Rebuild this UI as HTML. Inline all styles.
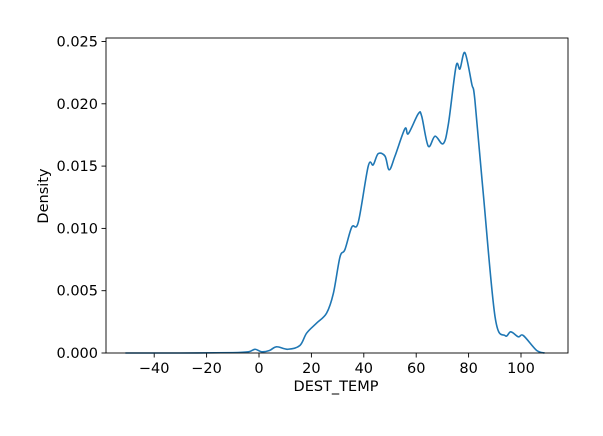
<!DOCTYPE html>
<html><head><meta charset="utf-8"><style>
body{margin:0;background:#fff;}
svg text{font-family:"DejaVu Sans","Liberation Sans",sans-serif;fill:#000;}
</style></head><body>
<svg width="603" height="431" viewBox="0 0 603 431">
<rect width="603" height="431" fill="#fff"/>
<g id="axes"></g>
<path id="curve" fill="none" stroke="#1f77b4" stroke-width="1.6" stroke-linejoin="round"/>
<rect x="106" y="38" width="462" height="315" fill="none" stroke="#000" stroke-width="0.9"/>
<text x="336" y="391" font-size="14.5" text-anchor="middle">DEST_TEMP</text>
<text x="48" y="196" font-size="14.5" text-anchor="middle" transform="rotate(-90 48 196)">Density</text>
</svg>
<script>
const xs=[-51,-30,-10,-4,-1.5,1,4,6.7,11,15.6,18.2,22,25.8,28.4,30.9,32.8,35.4,37.9,41.7,43.6,45.5,48.1,49.7,51.9,55.7,57,60.8,62.1,64.6,67.2,70.3,72.3,75.2,76.7,78.6,81.2,82.4,85.6,90.1,93.9,96.1,99,100.9,106,109];
const ys=[0,0,0.00003,0.0001,0.0003,0.0001,0.0002,0.0005,0.0003,0.0006,0.0016,0.0024,0.0032,0.0048,0.0077,0.0083,0.0101,0.0105,0.015,0.0151,0.016,0.0158,0.0147,0.0158,0.018,0.0176,0.0192,0.019,0.0166,0.0174,0.0168,0.0184,0.023,0.0228,0.0241,0.0216,0.0203,0.0128,0.0029,0.0014,0.0017,0.0013,0.0014,0.0002,0];
const xTicks=[-40,-20,0,20,40,60,80,100];
const yTicks=[0,0.005,0.01,0.015,0.02,0.025];
const yLabels=["0.000","0.005","0.010","0.015","0.020","0.025"];
const X=v=>259+v*2.62, Y=v=>353-v*12460;
const NS="http://www.w3.org/2000/svg", g=document.getElementById('axes');
function mk(t,a){const e=document.createElementNS(NS,t);for(const k in a)e.setAttribute(k,a[k]);g.appendChild(e);return e;}
xTicks.forEach(v=>{
 const l=mk('line',{x1:X(v),x2:X(v),y1:353,y2:357.5,stroke:'#000','stroke-width':0.9});
 
 
 const t=mk('text',{x:X(v),y:373,'font-size':14.5,'text-anchor':'middle'});
 t.textContent=(v<0?'\u2212'+(-v):v);
 
 
});
yTicks.forEach((v,i)=>{
 const l=mk('line',{x1:101.5,x2:106,y1:Y(v),y2:Y(v),stroke:'#000','stroke-width':0.9});
 
 
 const t=mk('text',{x:98,y:Y(v)+5,'font-size':14.5,'text-anchor':'end'});
 t.textContent=yLabels[i];
 
 
});
const P=xs.map((x,i)=>[X(x),Y(ys[i])]);
let d='M'+P[0][0]+','+P[0][1];
for(let i=0;i<P.length-1;i++){
 const p0=P[Math.max(0,i-1)],p1=P[i],p2=P[i+1],p3=P[Math.min(P.length-1,i+2)];
 const c1=[p1[0]+(p2[0]-p0[0])/6,p1[1]+(p2[1]-p0[1])/6],c2=[p2[0]-(p3[0]-p1[0])/6,p2[1]-(p3[1]-p1[1])/6];
 d+=` C${c1[0]},${Math.min(353,c1[1])} ${c2[0]},${Math.min(353,c2[1])} ${p2[0]},${p2[1]}`;
}
document.getElementById('curve').setAttribute('d',d);
</script>
</body></html>
